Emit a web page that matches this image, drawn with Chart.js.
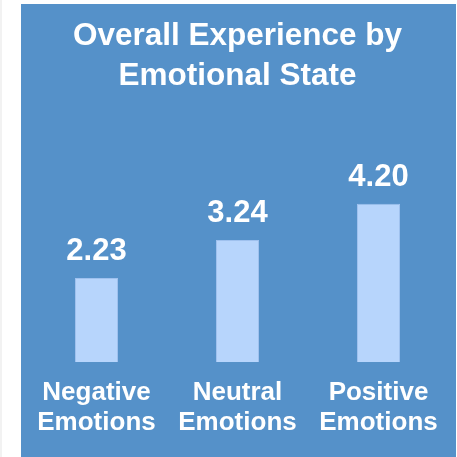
<!DOCTYPE html>
<html>
<head>
<meta charset="utf-8">
<script src="https://cdn.jsdelivr.net/npm/chart.js@4/dist/chart.umd.min.js"></script>
<style>
    html, body { margin: 0; padding: 0; background: #ffffff; }
    body { width: 457px; height: 457px; position: relative; overflow: hidden; }
    #strip { position: absolute; left: 0; top: 0; width: 2px; height: 457px; background: #f2f2f2; }
    #panel { position: absolute; left: 21px; top: 4px; width: 435px; height: 453px; background: #5591c9; }
    #panel canvas { display: block; }
</style>
</head>
<body>
<div id="strip"></div>
<div id="panel"><canvas id="emotionChart" width="435" height="453"></canvas></div>
<script>
const categories = [['Negative', 'Emotions'], ['Neutral', 'Emotions'], ['Positive', 'Emotions']];
const scores = [2.23, 3.24, 4.20];
const titleLines = ['Overall Experience by', 'Emotional State'];

document.addEventListener('DOMContentLoaded', () => {
    const ctx = document.getElementById('emotionChart').getContext('2d');
    Chart.defaults.font.family = "'Liberation Sans', Arial, sans-serif";
    Chart.defaults.color = '#ffffff';

    // value labels above each bar
    const valueLabels = {
        id: 'valueLabels',
        afterDatasetsDraw(chart) {
            const c = chart.ctx;
            const meta = chart.getDatasetMeta(0);
            c.save();
            c.font = "bold 31px 'Liberation Sans', Arial, sans-serif";
            c.fillStyle = '#ffffff';
            c.textAlign = 'center';
            c.textBaseline = 'alphabetic';
            meta.data.forEach((bar, i) => {
                c.fillText(scores[i].toFixed(2), bar.x, bar.y - 18);
            });
            c.restore();
        }
    };

    new Chart(ctx, {
        type: 'bar',
        data: {
            labels: categories,
            datasets: [{
                data: scores,
                backgroundColor: '#b7d5fc',
                borderColor: '#9fc1ee',
                borderWidth: 1,
                categoryPercentage: 1,
                barPercentage: 0.305
            }]
        },
        options: {
            responsive: false,
            animation: false,
            layout: { padding: { left: 5, right: 7, top: 0, bottom: 19 } },
            plugins: {
                legend: { display: false },
                tooltip: { enabled: false },
                title: {
                    display: true,
                    text: titleLines,
                    color: '#ffffff',
                    font: { size: 31.5, weight: 'bold', lineHeight: 1.27 },
                    padding: { top: 12, bottom: 77.5 }
                }
            },
            scales: {
                x: {
                    // invisible tick marks only to push labels down
                    grid: { display: true, drawOnChartArea: false, drawTicks: true, tickLength: 16, color: 'rgba(0,0,0,0)' },
                    border: { display: false },
                    ticks: {
                        color: '#ffffff',
                        font: { size: 26, weight: 'bold', lineHeight: 1.15 },
                        padding: 0,
                        maxRotation: 0
                    }
                },
                y: {
                    display: false,
                    min: 0,
                    max: 5
                }
            }
        },
        plugins: [valueLabels]
    });
});
</script>
</body>
</html>
